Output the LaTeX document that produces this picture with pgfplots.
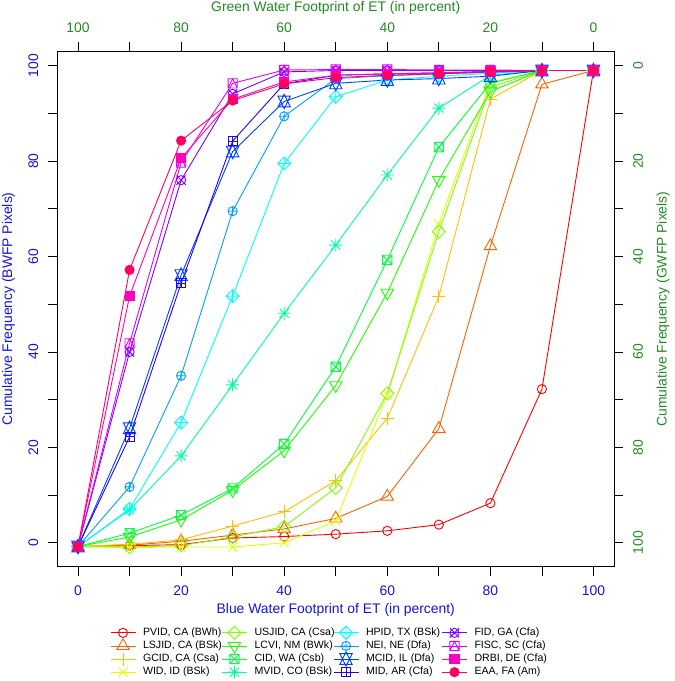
\documentclass[border=0pt]{standalone}
\usepackage{fontspec}
\setmainfont{Liberation Sans}
\usepackage{pgfplots}
\pgfplotsset{compat=1.18}

\definecolor{c1}{HTML}{FF0000}
\definecolor{c2}{HTML}{FF6000}
\definecolor{c3}{HTML}{FFBF00}
\definecolor{c4}{HTML}{DFFF00}
\definecolor{c5}{HTML}{80FF00}
\definecolor{c6}{HTML}{20FF00}
\definecolor{c7}{HTML}{00FF40}
\definecolor{c8}{HTML}{00FF9F}
\definecolor{c9}{HTML}{00FFFF}
\definecolor{c10}{HTML}{009FFF}
\definecolor{c11}{HTML}{0040FF}
\definecolor{c12}{HTML}{2000FF}
\definecolor{c13}{HTML}{8000FF}
\definecolor{c14}{HTML}{DF00FF}
\definecolor{c15}{HTML}{FF00BF}
\definecolor{c16}{HTML}{FF0060}
\definecolor{lblue}{HTML}{1414E0}
\definecolor{lgreen}{HTML}{228B22}

\newcommand{\R}{\pgfplotmarksize}
% R pch symbols
\pgfdeclareplotmark{Rcirc}{\pgfpathcircle{\pgfpointorigin}{\R}\pgfusepathqstroke}
\pgfdeclareplotmark{Rtri}{%
  \pgfpathmoveto{\pgfqpoint{0pt}{1.555\R}}%
  \pgfpathlineto{\pgfqpoint{1.347\R}{-0.778\R}}%
  \pgfpathlineto{\pgfqpoint{-1.347\R}{-0.778\R}}%
  \pgfpathclose\pgfusepathqstroke}
\pgfdeclareplotmark{Rplus}{%
  \pgfpathmoveto{\pgfqpoint{-1.414\R}{0pt}}\pgfpathlineto{\pgfqpoint{1.414\R}{0pt}}%
  \pgfpathmoveto{\pgfqpoint{0pt}{-1.414\R}}\pgfpathlineto{\pgfqpoint{0pt}{1.414\R}}%
  \pgfusepathqstroke}
\pgfdeclareplotmark{Rx}{%
  \pgfpathmoveto{\pgfqpoint{-\R}{-\R}}\pgfpathlineto{\pgfqpoint{\R}{\R}}%
  \pgfpathmoveto{\pgfqpoint{-\R}{\R}}\pgfpathlineto{\pgfqpoint{\R}{-\R}}%
  \pgfusepathqstroke}
\pgfdeclareplotmark{Rdiam}{%
  \pgfpathmoveto{\pgfqpoint{0pt}{1.414\R}}%
  \pgfpathlineto{\pgfqpoint{1.414\R}{0pt}}%
  \pgfpathlineto{\pgfqpoint{0pt}{-1.414\R}}%
  \pgfpathlineto{\pgfqpoint{-1.414\R}{0pt}}%
  \pgfpathclose\pgfusepathqstroke}
\pgfdeclareplotmark{Rtridown}{%
  \pgfpathmoveto{\pgfqpoint{0pt}{-1.555\R}}%
  \pgfpathlineto{\pgfqpoint{1.347\R}{0.778\R}}%
  \pgfpathlineto{\pgfqpoint{-1.347\R}{0.778\R}}%
  \pgfpathclose\pgfusepathqstroke}
\pgfdeclareplotmark{Rsqx}{%
  \pgfpathrectanglecorners{\pgfqpoint{-\R}{-\R}}{\pgfqpoint{\R}{\R}}%
  \pgfpathmoveto{\pgfqpoint{-\R}{-\R}}\pgfpathlineto{\pgfqpoint{\R}{\R}}%
  \pgfpathmoveto{\pgfqpoint{-\R}{\R}}\pgfpathlineto{\pgfqpoint{\R}{-\R}}%
  \pgfusepathqstroke}
\pgfdeclareplotmark{Rast}{%
  \pgfpathmoveto{\pgfqpoint{-\R}{-\R}}\pgfpathlineto{\pgfqpoint{\R}{\R}}%
  \pgfpathmoveto{\pgfqpoint{-\R}{\R}}\pgfpathlineto{\pgfqpoint{\R}{-\R}}%
  \pgfpathmoveto{\pgfqpoint{-1.414\R}{0pt}}\pgfpathlineto{\pgfqpoint{1.414\R}{0pt}}%
  \pgfpathmoveto{\pgfqpoint{0pt}{-1.414\R}}\pgfpathlineto{\pgfqpoint{0pt}{1.414\R}}%
  \pgfusepathqstroke}
\pgfdeclareplotmark{Rdiamplus}{%
  \pgfpathmoveto{\pgfqpoint{0pt}{1.414\R}}%
  \pgfpathlineto{\pgfqpoint{1.414\R}{0pt}}%
  \pgfpathlineto{\pgfqpoint{0pt}{-1.414\R}}%
  \pgfpathlineto{\pgfqpoint{-1.414\R}{0pt}}%
  \pgfpathclose
  \pgfpathmoveto{\pgfqpoint{-1.414\R}{0pt}}\pgfpathlineto{\pgfqpoint{1.414\R}{0pt}}%
  \pgfpathmoveto{\pgfqpoint{0pt}{-1.414\R}}\pgfpathlineto{\pgfqpoint{0pt}{1.414\R}}%
  \pgfusepathqstroke}
\pgfdeclareplotmark{Roplus}{%
  \pgfpathcircle{\pgfpointorigin}{\R}%
  \pgfpathmoveto{\pgfqpoint{-\R}{0pt}}\pgfpathlineto{\pgfqpoint{\R}{0pt}}%
  \pgfpathmoveto{\pgfqpoint{0pt}{-\R}}\pgfpathlineto{\pgfqpoint{0pt}{\R}}%
  \pgfusepathqstroke}
\pgfdeclareplotmark{Rdavid}{%
  \pgfpathmoveto{\pgfqpoint{0pt}{1.555\R}}%
  \pgfpathlineto{\pgfqpoint{1.347\R}{-1.1665\R}}%
  \pgfpathlineto{\pgfqpoint{-1.347\R}{-1.1665\R}}%
  \pgfpathclose
  \pgfpathmoveto{\pgfqpoint{0pt}{-1.555\R}}%
  \pgfpathlineto{\pgfqpoint{1.347\R}{1.1665\R}}%
  \pgfpathlineto{\pgfqpoint{-1.347\R}{1.1665\R}}%
  \pgfpathclose\pgfusepathqstroke}
\pgfdeclareplotmark{Rsqplus}{%
  \pgfpathrectanglecorners{\pgfqpoint{-\R}{-\R}}{\pgfqpoint{\R}{\R}}%
  \pgfpathmoveto{\pgfqpoint{-\R}{0pt}}\pgfpathlineto{\pgfqpoint{\R}{0pt}}%
  \pgfpathmoveto{\pgfqpoint{0pt}{-\R}}\pgfpathlineto{\pgfqpoint{0pt}{\R}}%
  \pgfusepathqstroke}
\pgfdeclareplotmark{Rotimes}{%
  \pgfpathcircle{\pgfpointorigin}{\R}%
  \pgfpathmoveto{\pgfqpoint{-\R}{-\R}}\pgfpathlineto{\pgfqpoint{\R}{\R}}%
  \pgfpathmoveto{\pgfqpoint{-\R}{\R}}\pgfpathlineto{\pgfqpoint{\R}{-\R}}%
  \pgfusepathqstroke}
\pgfdeclareplotmark{Rsqtri}{%
  \pgfpathrectanglecorners{\pgfqpoint{-\R}{-\R}}{\pgfqpoint{\R}{\R}}%
  \pgfpathmoveto{\pgfqpoint{-\R}{-\R}}\pgfpathlineto{\pgfqpoint{0pt}{\R}}%
  \pgfpathlineto{\pgfqpoint{\R}{-\R}}%
  \pgfusepathqstroke}
\pgfdeclareplotmark{Rsqfill}{%
  \pgfpathrectanglecorners{\pgfqpoint{-\R}{-\R}}{\pgfqpoint{\R}{\R}}%
  \pgfusepathqfillstroke}
\pgfdeclareplotmark{Rdot}{\pgfpathcircle{\pgfpointorigin}{\R}\pgfusepathqfillstroke}

\newcommand{\tfont}{\fontsize{13.9}{16}\selectfont}
\newcommand{\lfont}{\fontsize{10.6}{12}\selectfont}

\pgfplotsset{
  common/.style={
    at={(57.4pt,114.4pt)}, anchor=south west,
    width=556.7pt, height=515.2pt, scale only axis,
    tick align=outside, major tick length=9pt,
    xtick={0,10,...,100}, ytick={0,10,...,100},
    xticklabels={0,,20,,40,,60,,80,,100},
    yticklabels={0,,20,,40,,60,,80,,100},
    tick style={black, line width=0.8pt},
    axis line style={black, line width=0.8pt},
    tick label style={font=\tfont},
    label style={font=\tfont},
  },
  s/.style={line width=0.9pt, mark size=4.6pt, mark options={solid, line width=0.9pt}},
}

\begin{document}
\begin{tikzpicture}
\useasboundingbox (0,0) rectangle (675pt,681pt);
\begin{axis}[common,
  xmin=-4, xmax=104, ymin=-5, ymax=103,
  xtick pos=left, ytick pos=left,
  xticklabel style={lblue, anchor=center, yshift=-15pt},
  yticklabel style={lblue, xshift=-15pt, rotate=90, anchor=center},
  xlabel={Blue Water Footprint of ET (in percent)},
  ylabel={Cumulative Frequency (BWFP Pixels)},
  xlabel style={lblue, at={(axis description cs:0.5,-0.0842)}, anchor=center},
  ylabel style={lblue, at={(axis description cs:-0.0880,0.5)}, anchor=center},
  legend columns=4, transpose legend,
  legend cell align=left,
  legend style={at={(axis description cs:0.0954,-0.1159)}, anchor=north west,
    draw=none, fill=none, inner sep=0pt, outer sep=0pt, font=\lfont,
    row sep=0pt,
    /tikz/every odd column/.append style={column sep=7.5pt},
    nodes={inner xsep=0pt, inner ysep=1.7pt, text height=7.5pt, text depth=2.2pt, anchor=west}},
  legend image code/.code={%
    \draw[overlay,mark repeat=2,mark phase=2,#1] plot coordinates {(0pt,0pt) (12.5pt,0pt) (25pt,0pt)};
    \path[draw=none,fill=none] (0pt,-1pt) (25pt,1pt);},
]
\addplot[s, c1, mark=Rcirc] coordinates {(0,-0.8) (10,-0.6) (20,-0.4) (30,1.0) (40,1.3) (50,1.8) (60,2.5) (70,3.8) (80,8.3) (90,32.2) (100,99)};
\addlegendentry{\makebox[79pt][l]{PVID, CA (BWh)}}
\addplot[s, c2, mark=Rtri] coordinates {(0,-0.8) (10,-0.5) (20,0.3) (30,1.6) (40,2.9) (50,5.1) (60,9.7) (70,23.9) (80,62.2) (90,96.1) (100,99)};
\addlegendentry{\makebox[79pt][l]{LSJID, CA (BSk)}}
\addplot[s, c3, mark=Rplus] coordinates {(0,-0.8) (10,-0.3) (20,0.6) (30,3.5) (40,6.5) (50,13.0) (60,26.1) (70,51.6) (80,93.0) (90,99) (100,99)};
\addlegendentry{\makebox[79pt][l]{GCID, CA (Csa)}}
\addplot[s, c4, mark=Rx] coordinates {(0,-0.8) (10,-1.0) (20,-0.9) (30,-0.9) (40,0.0) (50,4.6) (60,31.0) (70,66.8) (80,96.5) (90,99) (100,99)};
\addlegendentry{\makebox[79pt][l]{WID, ID (BSk)}}
\addplot[s, c5, mark=Rdiam] coordinates {(0,-0.8) (10,-0.9) (20,-0.6) (30,1.2) (40,3.4) (50,11.5) (60,31.3) (70,65.2) (80,95.5) (90,99) (100,99)};
\addlegendentry{\makebox[79pt][l]{USJID, CA (Csa)}}
\addplot[s, c6, mark=Rtridown] coordinates {(0,-0.8) (10,1.2) (20,4.8) (30,11.0) (40,19.3) (50,33.0) (60,52.4) (70,76.0) (80,94.6) (90,99) (100,99)};
\addlegendentry{\makebox[79pt][l]{LCVI, NM (BWk)}}
\addplot[s, c7, mark=Rsqx] coordinates {(0,-0.8) (10,2.0) (20,5.8) (30,11.4) (40,20.7) (50,36.9) (60,59.3) (70,82.9) (80,96.3) (90,99) (100,99)};
\addlegendentry{\makebox[79pt][l]{CID, WA (Csb)}}
\addplot[s, c8, mark=Rast] coordinates {(0,-0.8) (10,6.9) (20,18.2) (30,33.1) (40,48.1) (50,62.4) (60,77.1) (70,91.1) (80,98.0) (90,99) (100,99)};
\addlegendentry{\makebox[79pt][l]{MVID, CO (BSk)}}
\addplot[s, c9, mark=Rdiamplus] coordinates {(0,-0.8) (10,7.1) (20,25.2) (30,51.7) (40,79.5) (50,93.5) (60,97.0) (70,97.8) (80,98.4) (90,99) (100,99)};
\addlegendentry{\makebox[76pt][l]{HPID, TX (BSk)}}
\addplot[s, c10, mark=Roplus] coordinates {(0,-0.8) (10,11.7) (20,35.0) (30,69.5) (40,89.4) (50,97.3) (60,97.9) (70,98.3) (80,98.6) (90,99) (100,99)};
\addlegendentry{\makebox[76pt][l]{NEI, NE (Dfa)}}
\addplot[s, c11, mark=Rdavid] coordinates {(0,-0.8) (10,24.0) (20,56.1) (30,82.0) (40,92.5) (50,96.3) (60,97.0) (70,97.3) (80,97.8) (90,99) (100,99)};
\addlegendentry{\makebox[76pt][l]{MCID, IL (Dfa)}}
\addplot[s, c12, mark=Rsqplus] coordinates {(0,-0.8) (10,22.2) (20,54.4) (30,84.2) (40,96.2) (50,98.0) (60,98.3) (70,98.5) (80,98.8) (90,99) (100,99)};
\addlegendentry{\makebox[76pt][l]{MID, AR (Cfa)}}
\addplot[s, c13, mark=Rotimes] coordinates {(0,-0.8) (10,40.0) (20,76.0) (30,94.1) (40,98.7) (50,99.0) (60,99.0) (70,99.0) (80,99.0) (90,99) (100,99)};
\addlegendentry{\makebox[79pt][l]{FID, GA (Cfa)}}
\addplot[s, c14, mark=Rsqtri] coordinates {(0,-0.8) (10,41.8) (20,79.7) (30,96.3) (40,99.1) (50,99.2) (60,99.2) (70,99.1) (80,99.1) (90,99) (100,99)};
\addlegendentry{\makebox[79pt][l]{FISC, SC (Cfa)}}
\addplot[s, c15, mark=Rsqfill, mark options={fill=c15}] coordinates {(0,-0.8) (10,51.7) (20,80.6) (30,93.0) (40,96.6) (50,98.0) (60,98.3) (70,98.5) (80,98.8) (90,99) (100,99)};
\addlegendentry{\makebox[79pt][l]{DRBI, DE (Cfa)}}
\addplot[s, c16, mark=Rdot, mark options={fill=c16}] coordinates {(0,-0.8) (10,57.2) (20,84.3) (30,92.7) (40,96.2) (50,97.5) (60,98.0) (70,98.3) (80,98.7) (90,99) (100,99)};
\addlegendentry{\makebox[79pt][l]{EAA, FA (Am)}}
\end{axis}
\begin{axis}[common,
  xmin=-4, xmax=104, ymin=-3, ymax=105,
  x dir=reverse, y dir=reverse,
  xtick pos=right, ytick pos=right,
  xticklabel pos=right, yticklabel pos=right,
  xticklabel style={lgreen, anchor=center, yshift=15pt},
  yticklabel style={lgreen, xshift=15pt, rotate=90, anchor=center},
  xlabel={Green Water Footprint of ET (in percent)},
  ylabel={Cumulative Frequency (GWFP Pixels)},
  xlabel style={lgreen, at={(axis description cs:0.5,1.0835)}, anchor=center},
  ylabel style={lgreen, at={(axis description cs:1.0880,0.5)}, anchor=center},
]
\end{axis}
\end{tikzpicture}
\end{document}
